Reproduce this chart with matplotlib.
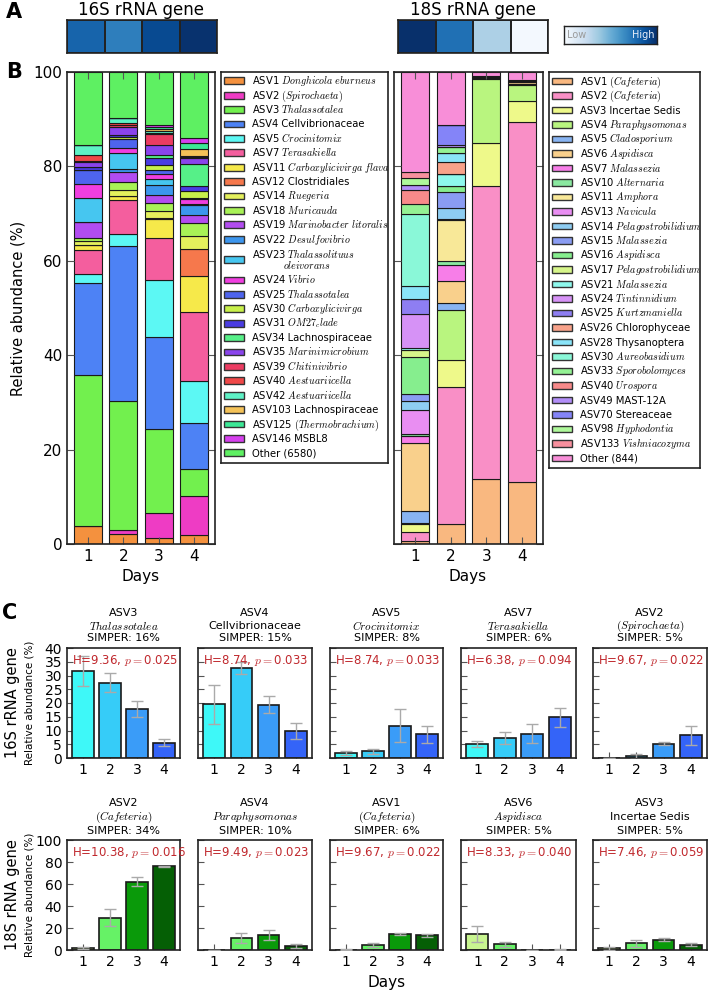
import matplotlib
matplotlib.use('Agg')
import matplotlib.pyplot as plt
from matplotlib.patches import Rectangle
import numpy as np

plt.rcParams['mathtext.fontset'] = 'cm'
plt.rcParams['font.family'] = ['DejaVu Sans']

# ---------------- data ----------------
days = [1, 2, 3, 4]

# Panel A: relative level per day (0..1 on Blues scale)
heat16 = [0.80, 0.70, 0.90, 0.99]
heat18 = [1.00, 0.75, 0.33, 0.02]

# Panel B: 16S stacked composition
labels16 = ['ASV1 $Donghicola\\ eburneus$', 'ASV2 $(Spirochaeta)$', 'ASV3 $Thalassotalea$',
            'ASV4 Cellvibrionaceae', 'ASV5 $Crocinitomix$', 'ASV7 $Terasakiella$',
            'ASV11 $Carboxylicivirga\\ flava$', 'ASV12 Clostridiales', 'ASV14 $Ruegeria$',
            'ASV18 $Muricauda$', 'ASV19 $Marinobacter\\ litoralis$', 'ASV22 $Desulfovibrio$',
            'ASV23 $Thalassolituus$\n$oleivorans$', 'ASV24 $Vibrio$', 'ASV25 $Thalassotalea$',
            'ASV30 $Carboxylicivirga$', 'ASV31 $OM27_clade$', 'ASV34 Lachnospiraceae',
            'ASV35 $Marinimicrobium$', 'ASV39 $Chitinivibrio$', 'ASV40 $Aestuariicella$',
            'ASV42 $Aestuariicella$', 'ASV103 Lachnospiraceae', 'ASV125 $(Thermobrachium)$',
            'ASV146 MSBL8', 'Other (6580)']
colors16 = ['#F4913E', '#EE3CC4', '#72F04E', '#4D82F5', '#5CF8F4', '#F45E9E',
            '#F6E94A', '#F6784C', '#E4F05C', '#A8F256', '#B24CF0', '#3C96EE',
            '#46C6F0', '#F03EE0', '#4E64EE', '#C8F04A', '#4A3CE2', '#56F088',
            '#8A44EC', '#EC3C62', '#F04848', '#5EF2C6', '#F4C258', '#3CE896',
            '#D640EE', '#5EF062']
s16_day1 = [3.9, 0.0, 31.8, 19.5, 1.9, 5.2, 1.0, 0.0, 0.9, 0.7, 3.3, 0.0, 5.0, 3.0, 3.0,
            0.0, 0.6, 0.0, 1.1, 0.2, 1.3, 2.1, 0.0, 0.0, 0.0, 15.5]
s16_day2 = [2.2, 0.8, 27.4, 32.7, 2.6, 7.2, 0.9, 0.0, 1.1, 1.9, 2.1, 0.5, 3.4, 1.2, 1.8,
            0.4, 0.5, 0.0, 1.6, 0.4, 0.5, 1.0, 0.0, 0.0, 0.0, 9.8]
s16_day3 = [1.2, 5.3, 17.9, 19.5, 12.0, 8.9, 4.0, 0.3, 1.5, 1.6, 1.7, 2.2, 1.2, 1.1, 0.8,
            1.1, 1.4, 0.7, 2.1, 2.3, 0.3, 0.5, 0.3, 0.5, 0.3, 11.3]
s16_day4 = [1.9, 8.3, 5.6, 9.9, 8.8, 14.7, 7.6, 5.8, 2.7, 2.8, 1.6, 2.1, 0.3, 0.9, 0.3,
            1.5, 1.1, 4.7, 1.1, 0.3, 0.3, 0.0, 1.4, 1.3, 1.1, 13.9]

# Panel B: 18S stacked composition
labels18 = ['ASV1 $(Cafeteria)$', 'ASV2 $(Cafeteria)$', 'ASV3 Incertae Sedis',
            'ASV4 $Paraphysomonas$', 'ASV5 $Cladosporium$', 'ASV6 $Aspidisca$',
            'ASV7 $Malassezia$', 'ASV10 $Alternaria$', 'ASV11 $Amphora$', 'ASV13 $Navicula$',
            'ASV14 $Pelagostrobilidium$', 'ASV15 $Malassezia$', 'ASV16 $Aspidisca$',
            'ASV17 $Pelagostrobilidium$', 'ASV21 $Malassezia$', 'ASV24 $Tintinnidium$',
            'ASV25 $Kurtzmaniella$', 'ASV26 Chlorophyceae', 'ASV28 Thysanoptera',
            'ASV30 $Aureobasidium$', 'ASV33 $Sporobolomyces$', 'ASV40 $Urospora$',
            'ASV49 MAST-12A', 'ASV70 Stereaceae', 'ASV98 $Hyphodontia$',
            'ASV133 $Vishniacozyma$', 'Other (844)']
colors18 = ['#F9B880', '#F98FC6', '#EEF98A', '#B9F57F', '#88B4F2', '#F9D08C', '#F77EE8',
            '#8AE8A0', '#F8E898', '#E98EF2', '#8ECDF2', '#8A9CF2', '#86EE8E', '#D6F58A',
            '#8EF8EC', '#D692F6', '#8E7EF2', '#F8A28A', '#8AE4F8', '#8AF8D8', '#94F294',
            '#F88A8A', '#B28EF8', '#8484F8', '#AEF89A', '#F8909E', '#F88ED8']
s18_day1 = [0.7, 1.9, 1.6, 0.3, 2.5, 14.4, 1.5, 0.3, 0.0, 5.1, 1.9, 1.6, 7.8, 1.6, 0.3,
            7.3, 3.2, 0.0, 2.6, 15.4, 2.1, 3.0, 1.0, 0.0, 1.5, 1.2, 21.2]
s18_day2 = [4.2, 29.0, 5.8, 10.6, 1.4, 4.7, 3.4, 0.9, 8.6, 0.3, 2.2, 3.4, 1.4, 0.0, 2.5,
            0.0, 0.0, 2.5, 1.9, 0.0, 1.4, 0.0, 0.4, 4.2, 0.0, 0.0, 11.2]
s18_day3 = [13.8, 62.0, 9.1, 13.6, 0.2, 0.0, 0.0, 0.2, 0.0, 0.0, 0.0, 0.0, 0.0, 0.0, 0.0,
            0.0, 0.0, 0.0, 0.0, 0.0, 0.0, 0.0, 0.0, 0.2, 0.0, 0.0, 0.9]
s18_day4 = [13.1, 76.4, 4.4, 3.3, 0.3, 0.3, 0.0, 0.0, 0.3, 0.0, 0.0, 0.0, 0.3, 0.0, 0.0,
            0.0, 0.0, 0.0, 0.0, 0.0, 0.0, 0.0, 0.0, 0.0, 0.0, 0.0, 1.6]

# Panel C: top ASVs
c16_names = ['ASV3', 'ASV4', 'ASV5', 'ASV7', 'ASV2']
c16_taxa = ['$Thalassotalea$', 'Cellvibrionaceae', '$Crocinitomix$', '$Terasakiella$', '$(Spirochaeta)$']
c16_simper = [16, 15, 8, 6, 5]
c16_H = ['9.36', '8.74', '8.74', '6.38', '9.67']
c16_p = ['0.025', '0.033', '0.033', '0.094', '0.022']
c16_means = [[31.7, 27.4, 17.9, 5.6], [19.5, 32.7, 19.4, 9.8], [1.8, 2.5, 11.8, 8.7],
             [5.1, 7.2, 8.8, 14.8], [0.1, 0.7, 5.2, 8.2]]
c16_err = [[5.5, 3.5, 3.0, 1.3], [7.0, 2.3, 3.1, 2.8], [0.6, 0.9, 6.0, 3.1],
           [1.1, 2.1, 3.5, 3.4], [0.0, 0.9, 0.5, 3.5]]
c16_colors = ['#3EF8F8', '#36CCF8', '#3A9CF8', '#3464F8']

c18_names = ['ASV2', 'ASV4', 'ASV1', 'ASV6', 'ASV3']
c18_taxa = ['$(Cafeteria)$', '$Paraphysomonas$', '$(Cafeteria)$', '$Aspidisca$', 'Incertae Sedis']
c18_simper = [34, 10, 6, 5, 5]
c18_H = ['10.38', '9.49', '9.67', '8.33', '7.46']
c18_p = ['0.016', '0.023', '0.022', '0.040', '0.059']
c18_means = [[2.1, 29.4, 62.1, 76.1], [0.2, 10.6, 13.9, 3.6], [0.4, 4.2, 14.2, 13.3],
             [14.5, 5.2, 0.1, 0.3], [1.5, 6.1, 9.4, 4.8]]
c18_err = [[0.8, 7.6, 3.9, 0.4], [0.0, 4.6, 4.6, 1.9], [0.5, 1.9, 1.0, 1.2],
           [7.6, 2.4, 0.0, 0.3], [1.2, 3.0, 1.2, 1.3]]
c18_colors = ['#C8F590', '#66F266', '#0A9A0A', '#055F05']

# ---------------- layout helpers ----------------
W, H = 709, 991
fig = plt.figure(figsize=(W / 100, H / 100), dpi=100)


def add_ax(x0, y0, x1, y1):
    return fig.add_axes([x0 / W, 1 - y1 / H, (x1 - x0) / W, (y1 - y0) / H])


def ftext(x, y, s, **kw):
    fig.text(x / W, 1 - y / H, s, **kw)


SPINE = '#222222'


def style_spines(ax, lw=1.2):
    for sp in ax.spines.values():
        sp.set_color(SPINE)
        sp.set_linewidth(lw)


# ---------------- panel A ----------------
ftext(14, 12, 'A', fontsize=15, fontweight='bold', ha='center', va='center')
ftext(141, 10, '16S rRNA gene', fontsize=12, ha='center', va='center')
ftext(473, 10, '18S rRNA gene', fontsize=12, ha='center', va='center')
for (x0, x1), vals in [((67, 217), heat16), ((398, 548), heat18)]:
    ax = add_ax(x0, 20, x1, 53)
    ax.pcolormesh(np.array([vals]), cmap='Blues', vmin=0, vmax=1,
                  edgecolors=SPINE, linewidth=1.2)
    ax.set_xticks([]); ax.set_yticks([])
    style_spines(ax)

axcb = add_ax(564, 26, 657, 44)
axcb.imshow(np.linspace(0, 1, 200)[None, :], cmap='Blues', aspect='auto',
            extent=[0, 1, 0, 1])
axcb.set_xticks([]); axcb.set_yticks([])
style_spines(axcb, 1.0)
axcb.text(0.03, 0.5, 'Low', color='#9a9a9a', fontsize=7, va='center', ha='left',
          transform=axcb.transAxes)
axcb.text(0.97, 0.5, 'High', color='#e8eef8', fontsize=7, va='center', ha='right',
          transform=axcb.transAxes)

# ---------------- panel B ----------------
ftext(14, 72, 'B', fontsize=15, fontweight='bold', ha='center', va='center')


def stacked(ax, daily, colors):
    data = np.array(daily).T  # series x days
    bottom = np.zeros(len(days))
    for vals, col in zip(data, colors):
        ax.bar(days, vals, bottom=bottom, width=0.8, color=col, edgecolor='#1a1a1a',
               linewidth=0.8)
        bottom = bottom + vals
    ax.set_xlim(0.4, 4.6)
    ax.set_ylim(0, 100)
    ax.set_xticks(days)
    ax.set_yticks(range(0, 101, 20))
    ax.tick_params(direction='in', top=True, right=True, length=5, labelsize=11,
                   color='#555555')
    style_spines(ax)


ax16 = add_ax(67, 72, 215, 544)
stacked(ax16, [s16_day1, s16_day2, s16_day3, s16_day4], colors16)
ax18 = add_ax(394, 72, 543, 544)
stacked(ax18, [s18_day1, s18_day2, s18_day3, s18_day4], colors18)
ax18.set_yticklabels([])
ftext(18, 308, 'Relative abundance (%)', fontsize=10.5, rotation=90, ha='center', va='center')
ftext(141, 577, 'Days', fontsize=11, ha='center', va='center')
ftext(468, 577, 'Days', fontsize=11, ha='center', va='center')


def draw_legend(x0, y0, x1, y1, labels, colors, first_y, pitch, fs=7.2):
    lax = add_ax(x0, y0, x1, y1)
    lax.set_xlim(0, x1 - x0)
    lax.set_ylim(y1 - y0, 0)
    lax.set_xticks([]); lax.set_yticks([])
    style_spines(lax, 1.2)
    extra = 0.0
    for lab, col in zip(labels, colors):
        lines = lab.split('\n')
        if len(lines) > 1:
            extra += 6.0
        yc = first_y - y0 + extra
        lax.add_patch(Rectangle((3, yc - 3.4), 20, 6.8, facecolor=col,
                                edgecolor='#333333', linewidth=1))
        if len(lines) == 1:
            lax.text(31, yc + 3.5, lines[0], fontsize=fs, ha='left', va='baseline')
        else:
            lax.text(31, yc - 2.0, lines[0], fontsize=fs, ha='left', va='baseline')
            lax.text(62, yc + 9.0, lines[1], fontsize=fs, ha='left', va='baseline')
            extra += 6.0
        first_y += pitch


draw_legend(221, 72, 388, 463, labels16, colors16, 80.7, 14.4)
draw_legend(549, 72, 700, 468, labels18, colors18, 81.0, 14.5)

# ---------------- panel C ----------------
ftext(10, 613, 'C', fontsize=15, fontweight='bold', ha='center', va='center')
cols = [(67, 180), (198, 312), (330, 443), (461, 576), (593, 707)]


def small_panels(ytop, ybot, names, taxa, simper, Hs, ps, means, errs, colors,
                 ymax, ystep, title_y):
    for i, (x0, x1) in enumerate(cols):
        ax = add_ax(x0, ytop, x1, ybot)
        ax.bar(days, means[i], width=0.8, color=colors, edgecolor='#1a1a1a',
               linewidth=1.2, zorder=2)
        ax.errorbar(days, means[i], yerr=errs[i], fmt='none', ecolor='#aaaaaa',
                    elinewidth=1.0, capsize=4, capthick=1.0, zorder=3)
        ax.set_xlim(0.4, 4.6)
        ax.set_ylim(0, ymax)
        ax.set_xticks(days)
        ax.set_yticks(np.arange(0, ymax + 0.1, ystep))
        ax.tick_params(direction='in', length=4, labelsize=10, color='#555555')
        if i > 0:
            ax.set_yticklabels([])
        style_spines(ax)
        ax.text(0.04, 0.89, 'H=%s, $p=$%s' % (Hs[i], ps[i]), transform=ax.transAxes,
                color='#C0282D', fontsize=8.5, ha='left', va='center')
        xc = (x0 + x1) / 2
        ftext(xc, title_y[0], names[i], fontsize=8, ha='center', va='center')
        ftext(xc, title_y[1], taxa[i], fontsize=8, ha='center', va='center')
        ftext(xc, title_y[2], 'SIMPER: %d%%' % simper[i], fontsize=8, ha='center',
              va='center')


small_panels(648, 758, c16_names, c16_taxa, c16_simper, c16_H, c16_p, c16_means,
             c16_err, c16_colors, 40, 5, (613, 626, 638))
small_panels(840, 950, c18_names, c18_taxa, c18_simper, c18_H, c18_p, c18_means,
             c18_err, c18_colors, 100, 20, (803, 817, 831))

for yc, gene in [(703, '16S rRNA gene'), (895, '18S rRNA gene')]:
    ftext(13, yc, gene, fontsize=10.5, rotation=90, ha='center', va='center')
    ftext(30, yc, 'Relative abundance (%)', fontsize=7.5, rotation=90, ha='center',
          va='center')
ftext(387, 982, 'Days', fontsize=11, ha='center', va='center')

fig.savefig('out.png', dpi=100)
